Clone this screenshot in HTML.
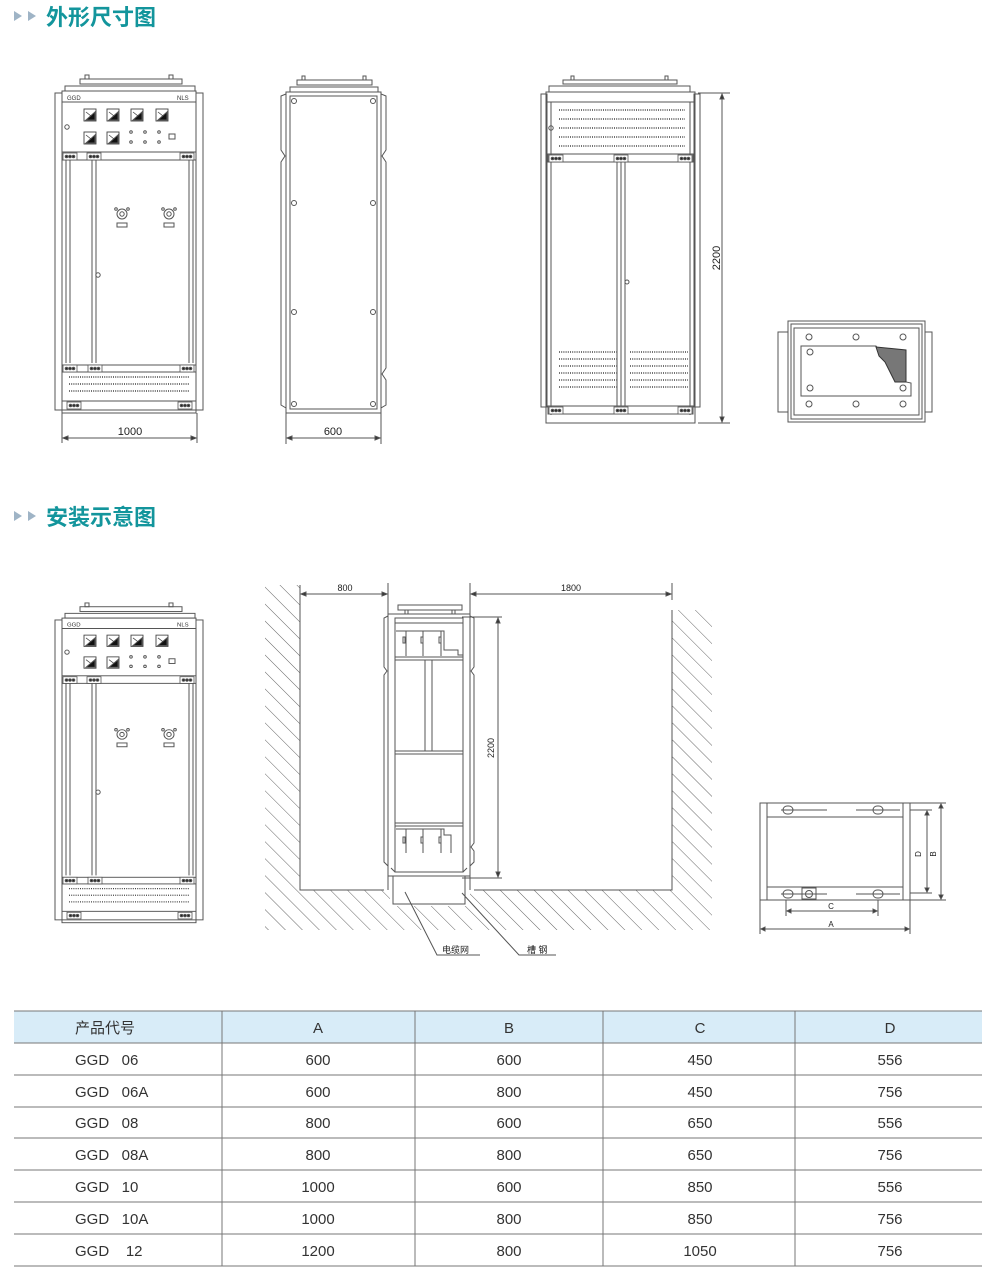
<!DOCTYPE html>
<html><head><meta charset="utf-8"><style>
html,body{margin:0;padding:0;background:#fff;}
svg{display:block;}
text{font-family:"Liberation Sans","Noto Sans CJK SC",sans-serif;}
</style></head><body>
<svg width="1000" height="1286" viewBox="0 0 1000 1286" xmlns="http://www.w3.org/2000/svg">
<defs>
<pattern id="hatch" width="12" height="12" patternUnits="userSpaceOnUse" patternTransform="rotate(-45)">
<line x1="0" y1="0" x2="0" y2="12" stroke="#666" stroke-width="1"/>
</pattern>
<g id="dots3"><rect x="0" y="0" width="14" height="7" fill="#fff" stroke="#555" stroke-width="0.8"/><circle cx="3.5" cy="3.5" r="1.3" fill="#222"/><circle cx="7" cy="3.5" r="1.3" fill="#222"/><circle cx="10.5" cy="3.5" r="1.3" fill="#222"/></g>
<g id="meter"><rect x="0" y="0" width="12" height="12" fill="#fff" stroke="#444" stroke-width="0.9"/><path d="M2 11 L11 11 L11 3 Z" fill="#111"/><line x1="2" y1="3" x2="7" y2="7" stroke="#444" stroke-width="0.8"/></g>
<g id="knob"><circle cx="0" cy="0" r="5" fill="#fff" stroke="#555"/><circle cx="0" cy="0" r="2.2" fill="none" stroke="#555"/><circle cx="-6" cy="-5" r="1.3" fill="none" stroke="#555"/><circle cx="6" cy="-5" r="1.3" fill="none" stroke="#555"/><rect x="-5" y="9" width="10" height="4" fill="#fff" stroke="#555"/></g>
<g id="front" fill="none" stroke="#555" stroke-width="1">
 <rect x="80" y="79" width="102" height="5"/>
 <rect x="85" y="75" width="4" height="4"/><rect x="169" y="75" width="4" height="4"/>
 <rect x="65" y="86" width="130" height="5"/>
 <rect x="55" y="93" width="7" height="317"/><rect x="196" y="93" width="7" height="317"/>
 <rect x="62" y="91" width="134" height="322"/>
 <line x1="62" y1="102" x2="196" y2="102"/>
 <text x="67" y="100" font-size="6" fill="#333" stroke="none" font-family="Liberation Serif,serif">GGD</text>
 <text x="177" y="100" font-size="6" fill="#333" stroke="none" font-family="Liberation Serif,serif">NLS</text>
 <use href="#meter" x="84" y="109"/><use href="#meter" x="107" y="109"/><use href="#meter" x="131" y="109"/><use href="#meter" x="156" y="109"/>
 <use href="#meter" x="84" y="132"/><use href="#meter" x="107" y="132"/>
 <circle cx="131" cy="132" r="1.3"/><circle cx="145" cy="132" r="1.3"/><circle cx="159" cy="132" r="1.3"/>
 <circle cx="131" cy="142" r="1.3"/><circle cx="145" cy="142" r="1.3"/><circle cx="159" cy="142" r="1.3"/>
 <rect x="169" y="134" width="6" height="5"/>
 <circle cx="67" cy="127" r="2.2"/>
 <rect x="62" y="152" width="134" height="8"/>
 <use href="#dots3" x="63" y="153"/><use href="#dots3" x="87" y="153"/><use href="#dots3" x="180" y="153"/>
 <line x1="66" y1="160" x2="66" y2="363"/><line x1="70" y1="160" x2="70" y2="363"/>
 <line x1="92" y1="160" x2="92" y2="363"/><line x1="96" y1="160" x2="96" y2="363"/>
 <line x1="189" y1="160" x2="189" y2="363"/><line x1="193" y1="160" x2="193" y2="363"/>
 <use href="#knob" x="122" y="214"/><use href="#knob" x="169" y="214"/>
 <circle cx="98" cy="275" r="2.2"/>
 <rect x="62" y="365" width="134" height="7"/>
 <use href="#dots3" x="63" y="365"/><use href="#dots3" x="88" y="365"/><use href="#dots3" x="180" y="365"/>
 <g stroke-dasharray="1 1.2" stroke="#444" stroke-width="1.4"><line x1="69" y1="377" x2="190" y2="377"/><line x1="69" y1="384" x2="190" y2="384"/><line x1="69" y1="391" x2="190" y2="391"/></g>
 <rect x="62" y="401" width="134" height="9"/>
 <use href="#dots3" x="67" y="402"/><use href="#dots3" x="178" y="402"/>
</g>
</defs>

<g fill="#9fb4c6"><path d="M14 11 L22 16 L14 21Z"/><path d="M28 11 L36 16 L28 21Z"/></g>
<text x="46" y="25" font-size="22" font-weight="bold" fill="#13959c">外形尺寸图</text>
<g fill="#9fb4c6"><path d="M14 511 L22 516 L14 521Z"/><path d="M28 511 L36 516 L28 521Z"/></g>
<text x="46" y="525" font-size="22" font-weight="bold" fill="#13959c">安装示意图</text>

<use href="#front"/>
<g stroke="#555" fill="none">
<line x1="62" y1="413" x2="62" y2="443"/><line x1="197" y1="413" x2="197" y2="443"/>
<line x1="63" y1="438" x2="196" y2="438"/>
<path d="M63 438 l5 -2 v4z M196 438 l-5 -2 v4z" fill="#333"/>
</g>
<text x="130" y="435" font-size="11" text-anchor="middle" fill="#222">1000</text>

<g fill="none" stroke="#555">
<rect x="297" y="80" width="75" height="5"/><rect x="302" y="76" width="3" height="4"/><rect x="363" y="76" width="3" height="4"/>
<rect x="290" y="87" width="88" height="5"/>
<rect x="286" y="92" width="95" height="321"/>
<rect x="290" y="96" width="87" height="313"/>
<path d="M286 94 L281 96 L281 150 L285 156 L281 162 L281 405 L286 408"/>
<path d="M381 94 L386 96 L386 150 L382 156 L386 162 L386 368 L382 374 L386 380 L386 405 L381 408"/>
<circle cx="294" cy="101" r="2.5"/><circle cx="373" cy="101" r="2.5"/>
<circle cx="294" cy="203" r="2.5"/><circle cx="373" cy="203" r="2.5"/>
<circle cx="294" cy="312" r="2.5"/><circle cx="373" cy="312" r="2.5"/>
<circle cx="294" cy="404" r="2.5"/><circle cx="373" cy="404" r="2.5"/>
<line x1="286" y1="413" x2="286" y2="444"/><line x1="381" y1="413" x2="381" y2="444"/>
<line x1="287" y1="438" x2="380" y2="438"/>
<path d="M287 438 l5 -2 v4z M380 438 l-5 -2 v4z" fill="#333"/>
</g>
<text x="333" y="435" font-size="11" text-anchor="middle" fill="#222">600</text>

<g fill="none" stroke="#555">
<rect x="563" y="80" width="114" height="4"/><rect x="571" y="76" width="3" height="4"/><rect x="665" y="76" width="3" height="4"/>
<rect x="549" y="86" width="141" height="6"/>
<rect x="541" y="94" width="6" height="313"/><rect x="694" y="94" width="6" height="313"/>
<rect x="546" y="92" width="149" height="331"/>
<line x1="546" y1="102" x2="695" y2="102"/>
<line x1="551" y1="102" x2="551" y2="415"/><line x1="690" y1="102" x2="690" y2="415"/>
<circle cx="551" cy="128" r="2.2"/>
<g stroke-dasharray="1 1.2" stroke="#444" stroke-width="1.4">
<line x1="559" y1="110" x2="685" y2="110"/><line x1="559" y1="119" x2="685" y2="119"/><line x1="559" y1="128" x2="685" y2="128"/><line x1="559" y1="137" x2="685" y2="137"/><line x1="559" y1="146" x2="685" y2="146"/>
<line x1="559" y1="352" x2="617" y2="352"/><line x1="559" y1="359" x2="617" y2="359"/><line x1="559" y1="366" x2="617" y2="366"/><line x1="559" y1="373" x2="617" y2="373"/><line x1="559" y1="380" x2="617" y2="380"/><line x1="559" y1="387" x2="617" y2="387"/>
<line x1="630" y1="352" x2="688" y2="352"/><line x1="630" y1="359" x2="688" y2="359"/><line x1="630" y1="366" x2="688" y2="366"/><line x1="630" y1="373" x2="688" y2="373"/><line x1="630" y1="380" x2="688" y2="380"/><line x1="630" y1="387" x2="688" y2="387"/>
</g>
<rect x="548" y="154" width="145" height="8"/>
<use href="#dots3" x="549" y="155"/><use href="#dots3" x="614" y="155"/><use href="#dots3" x="678" y="155"/>
<line x1="617" y1="162" x2="617" y2="406"/><line x1="621" y1="162" x2="621" y2="406"/><line x1="625" y1="162" x2="625" y2="406"/>
<circle cx="627" cy="282" r="2"/>
<rect x="548" y="406" width="145" height="8"/>
<use href="#dots3" x="549" y="407"/><use href="#dots3" x="614" y="407"/><use href="#dots3" x="678" y="407"/>
<line x1="698" y1="93" x2="730" y2="93"/><line x1="698" y1="423" x2="730" y2="423"/>
<line x1="722" y1="94" x2="722" y2="422"/>
<path d="M722 94 l-2 5 h4z M722 422 l-2 -5 h4z" fill="#333"/>
</g>
<text x="0" y="0" font-size="11" fill="#222" text-anchor="middle" transform="translate(720,258) rotate(-90)">2200</text>

<g fill="none" stroke="#555">
<rect x="788" y="321" width="137" height="101"/>
<rect x="791" y="324" width="131" height="95"/>
<rect x="794" y="328" width="125" height="87"/>
<rect x="778" y="332" width="10" height="80"/><rect x="925" y="332" width="7" height="80"/>
<circle cx="809" cy="337" r="3"/><circle cx="856" cy="337" r="3"/><circle cx="903" cy="337" r="3"/>
<circle cx="809" cy="404" r="3"/><circle cx="856" cy="404" r="3"/><circle cx="903" cy="404" r="3"/>
<path d="M801 346 L876 346 L879 350 L906 350 L906 382 L911 383 L911 396 L801 396 Z"/>
<circle cx="810" cy="352" r="3"/><circle cx="810" cy="388" r="3"/><circle cx="903" cy="388" r="3"/>
<path d="M876 347 L906 350 L906 382 L895 382 L890 372 L885 362 L879 356 Z" fill="#777" stroke="#333"/>
</g>

<use href="#front" transform="translate(0,532) scale(1,0.946)"/>

<rect x="265" y="585" width="447" height="345" fill="url(#hatch)"/>
<rect x="300" y="585" width="88" height="305" fill="#fff"/>
<rect x="388" y="600" width="84" height="290" fill="#fff"/>
<rect x="472" y="592" width="200" height="298" fill="#fff"/>
<rect x="472" y="585" width="240" height="7" fill="#fff"/>
<rect x="672" y="585" width="40" height="25" fill="#fff"/>
<rect x="388" y="585" width="84" height="15" fill="#fff"/>
<rect x="390" y="890" width="80" height="16" fill="#fff"/>
<g fill="none" stroke="#555">
<path d="M300 585 V890 H384 M474 890 H672 V610"/>
<line x1="388" y1="583" x2="388" y2="620"/><line x1="470" y1="583" x2="470" y2="620"/>
<line x1="672" y1="583" x2="672" y2="600"/>
<line x1="301" y1="594" x2="387" y2="594"/><line x1="471" y1="594" x2="671" y2="594"/>
<path d="M301 594 l5 -2 v4z M387 594 l-5 -2 v4z M471 594 l5 -2 v4z M671 594 l-5 -2 v4z" fill="#333"/>
<rect x="398" y="605" width="64" height="5"/><rect x="405" y="610" width="3" height="4"/><rect x="452" y="610" width="3" height="4"/>
<rect x="388" y="614" width="82" height="262"/>
<rect x="395" y="618" width="68" height="254"/>
<path d="M388 616 L384 618 L384 667 L387 671 L384 675 L384 862 L388 866"/>
<path d="M470 616 L474 618 L474 667 L471 671 L474 675 L474 843 L471 847 L474 851 L474 862 L470 866"/>
<line x1="395" y1="623" x2="463" y2="623"/>
<path d="M396 631 H444 V650 H458 V655 H463"/>
<line x1="406" y1="631" x2="406" y2="656"/><line x1="423" y1="631" x2="423" y2="656"/><line x1="441" y1="631" x2="441" y2="656"/>
<rect x="403" y="637" width="2" height="6"/><rect x="421" y="637" width="2" height="6"/><rect x="439" y="637" width="2" height="6"/>
<line x1="395" y1="657" x2="463" y2="657"/><line x1="395" y1="660" x2="463" y2="660"/>
<line x1="425" y1="660" x2="425" y2="751"/><line x1="432" y1="660" x2="432" y2="751"/>
<line x1="395" y1="751" x2="463" y2="751"/><line x1="395" y1="754" x2="463" y2="754"/>
<line x1="395" y1="823" x2="463" y2="823"/><line x1="395" y1="826" x2="463" y2="826"/>
<path d="M406 829 V853 M423 829 V853 M441 829 V853 M396 829 H444 V835 H451 V853"/>
<rect x="403" y="837" width="2" height="6"/><rect x="421" y="837" width="2" height="6"/><rect x="439" y="837" width="2" height="6"/>
<path d="M391 868 L395 872 H463 L467 868 M388 876 V890 M470 876 V890"/>
<rect x="393" y="876" width="72" height="28"/>
<line x1="462" y1="617" x2="502" y2="617"/><line x1="462" y1="878" x2="502" y2="878"/>
<line x1="498" y1="618" x2="498" y2="877"/>
<path d="M498 618 l-2 5 h4z M498 877 l-2 -5 h4z" fill="#333"/>
<path d="M405 892 L437 955 H480 M462 893 L519 955 H556"/>
</g>
<text x="345" y="591" font-size="9" fill="#222" text-anchor="middle">800</text>
<text x="571" y="591" font-size="9" fill="#222" text-anchor="middle">1800</text>
<text x="0" y="0" font-size="9" fill="#222" text-anchor="middle" transform="translate(494,748) rotate(-90)">2200</text>
<text x="442" y="953" font-size="9" fill="#222">电缆网</text>
<text x="527" y="953" font-size="9" fill="#222">槽 钢</text>

<g fill="none" stroke="#555">
<rect x="760" y="803" width="150" height="97"/>
<line x1="767" y1="803" x2="767" y2="900"/><line x1="903" y1="803" x2="903" y2="900"/>
<line x1="767" y1="817" x2="903" y2="817"/><line x1="767" y1="887" x2="903" y2="887"/>
<line x1="781" y1="810" x2="827" y2="810"/><line x1="856" y1="810" x2="900" y2="810"/>
<line x1="781" y1="894" x2="827" y2="894"/><line x1="856" y1="894" x2="900" y2="894"/>
<rect x="783" y="806" width="10" height="8" rx="4"/><rect x="873" y="806" width="10" height="8" rx="4"/>
<rect x="783" y="890" width="10" height="8" rx="4"/><rect x="873" y="890" width="10" height="8" rx="4"/>
<rect x="802" y="888" width="14" height="11"/><circle cx="809" cy="894" r="3.5"/>
<line x1="910" y1="810" x2="932" y2="810"/><line x1="910" y1="893" x2="932" y2="893"/>
<line x1="910" y1="803" x2="946" y2="803"/><line x1="910" y1="900" x2="946" y2="900"/>
<line x1="927" y1="811" x2="927" y2="892"/><line x1="941" y1="804" x2="941" y2="899"/>
<path d="M927 811 l-2 4 h4z M927 892 l-2 -4 h4z M941 804 l-2 4 h4z M941 899 l-2 -4 h4z" fill="#333"/>
<line x1="786" y1="900" x2="786" y2="916"/><line x1="878" y1="900" x2="878" y2="916"/>
<line x1="787" y1="911" x2="877" y2="911"/>
<line x1="760" y1="900" x2="760" y2="934"/><line x1="910" y1="900" x2="910" y2="934"/>
<line x1="761" y1="929" x2="909" y2="929"/>
<path d="M787 911 l4 -2 v4z M877 911 l-4 -2 v4z M761 929 l4 -2 v4z M909 929 l-4 -2 v4z" fill="#333"/>
</g>
<text x="831" y="909" font-size="8" fill="#222" text-anchor="middle">C</text>
<text x="831" y="927" font-size="8" fill="#222" text-anchor="middle">A</text>
<text x="0" y="0" font-size="8" fill="#222" text-anchor="middle" transform="translate(921,854) rotate(-90)">D</text>
<text x="0" y="0" font-size="8" fill="#222" text-anchor="middle" transform="translate(936,854) rotate(-90)">B</text>

<rect x="14" y="1011" width="968" height="32" fill="#d8ecf8"/>
<g stroke="#777" stroke-width="1">
<line x1="14" y1="1011" x2="982" y2="1011"/>
<line x1="14" y1="1043" x2="982" y2="1043"/>
<line x1="14" y1="1075" x2="982" y2="1075"/>
<line x1="14" y1="1107" x2="982" y2="1107"/>
<line x1="14" y1="1138" x2="982" y2="1138"/>
<line x1="14" y1="1170" x2="982" y2="1170"/>
<line x1="14" y1="1202" x2="982" y2="1202"/>
<line x1="14" y1="1234" x2="982" y2="1234"/>
<line x1="14" y1="1266" x2="982" y2="1266"/>
<line x1="222" y1="1011" x2="222" y2="1266"/>
<line x1="415" y1="1011" x2="415" y2="1266"/>
<line x1="603" y1="1011" x2="603" y2="1266"/>
<line x1="795" y1="1011" x2="795" y2="1266"/>
</g>
<g font-size="15" fill="#333">
<text x="75" y="1033">产品代号</text>
<g text-anchor="middle"><text x="318" y="1033">A</text><text x="509" y="1033">B</text><text x="700" y="1033">C</text><text x="890" y="1033">D</text></g>
<text x="75" y="1065" xml:space="preserve">GGD   06</text>
<text x="75" y="1097" xml:space="preserve">GGD   06A</text>
<text x="75" y="1128" xml:space="preserve">GGD   08</text>
<text x="75" y="1160" xml:space="preserve">GGD   08A</text>
<text x="75" y="1192" xml:space="preserve">GGD   10</text>
<text x="75" y="1224" xml:space="preserve">GGD   10A</text>
<text x="75" y="1256" xml:space="preserve">GGD    12</text>
<g text-anchor="middle">
<text x="318" y="1065">600</text><text x="509" y="1065">600</text><text x="700" y="1065">450</text><text x="890" y="1065">556</text>
<text x="318" y="1097">600</text><text x="509" y="1097">800</text><text x="700" y="1097">450</text><text x="890" y="1097">756</text>
<text x="318" y="1128">800</text><text x="509" y="1128">600</text><text x="700" y="1128">650</text><text x="890" y="1128">556</text>
<text x="318" y="1160">800</text><text x="509" y="1160">800</text><text x="700" y="1160">650</text><text x="890" y="1160">756</text>
<text x="318" y="1192">1000</text><text x="509" y="1192">600</text><text x="700" y="1192">850</text><text x="890" y="1192">556</text>
<text x="318" y="1224">1000</text><text x="509" y="1224">800</text><text x="700" y="1224">850</text><text x="890" y="1224">756</text>
<text x="318" y="1256">1200</text><text x="509" y="1256">800</text><text x="700" y="1256">1050</text><text x="890" y="1256">756</text>
</g>
</g>
</svg>
</body></html>
